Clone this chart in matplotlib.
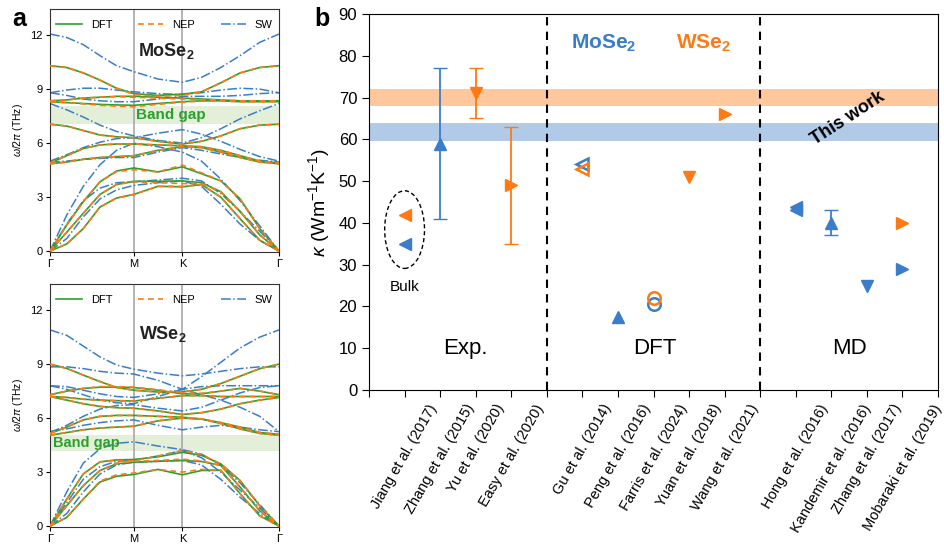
import matplotlib.pyplot as plt
from matplotlib.patches import Ellipse

plt.rcParams["font.family"] = ["Liberation Sans", "DejaVu Sans"]
plt.rcParams["mathtext.fontset"] = "custom"
plt.rcParams["mathtext.rm"] = "Liberation Sans"
plt.rcParams["mathtext.it"] = "Liberation Sans:italic"
plt.rcParams["mathtext.bf"] = "Liberation Sans:bold"

BLUE = "#3a7dc9"
ORANGE = "#ff7a14"
GREEN = "#2ca02c"

# ---------------- panel a: phonon dispersions ----------------
# sample points along Gamma-M-K-Gamma (path length units)
q_path = [0.0, 0.115, 0.229, 0.344, 0.458, 0.577, 0.743, 0.911, 1.043, 1.176, 1.309, 1.444, 1.577]
q_ticks = [0.0, 0.577, 0.911, 1.577]
q_labels = ["Γ", "M", "K", "Γ"]

mose2_dft = [
    [0, 0.4, 1.25, 2.45, 2.95, 3.15, 3.6, 3.57, 3.7, 3.0, 1.8, 0.6, 0],
    [0, 1.05, 2.1, 3.15, 3.7, 3.88, 3.88, 3.9, 3.8, 3.3, 2.2, 0.9, 0],
    [0, 1.45, 2.75, 3.85, 4.45, 4.62, 4.4, 4.68, 4.3, 3.9, 2.9, 1.25, 0],
    [4.85, 4.95, 5.1, 5.2, 5.25, 5.3, 5.6, 5.8, 5.75, 5.5, 5.2, 4.95, 4.85],
    [4.9, 5.3, 5.7, 5.9, 5.95, 5.95, 5.9, 5.85, 5.8, 5.6, 5.3, 5.0, 4.9],
    [7.05, 6.95, 6.7, 6.45, 6.35, 6.3, 6.1, 5.95, 6.1, 6.4, 6.8, 7.0, 7.05],
    [8.3, 8.25, 8.2, 8.15, 8.12, 8.1, 8.2, 8.3, 8.35, 8.35, 8.3, 8.3, 8.3],
    [8.35, 8.4, 8.5, 8.55, 8.6, 8.6, 8.55, 8.5, 8.45, 8.4, 8.35, 8.35, 8.35],
    [10.3, 10.2, 9.9, 9.5, 9.05, 8.75, 8.65, 8.72, 8.85, 9.35, 9.9, 10.2, 10.3],
]
mose2_nep = [
    [0, 0.4, 1.25, 2.45, 2.95, 3.15, 3.6, 3.6, 3.7, 3.0, 1.8, 0.6, 0],
    [0, 1.05, 2.1, 3.15, 3.7, 3.85, 3.8, 3.75, 3.75, 3.3, 2.2, 0.9, 0],
    [0, 1.45, 2.75, 3.85, 4.42, 4.52, 4.4, 4.78, 4.35, 3.9, 2.9, 1.25, 0],
    [4.85, 4.95, 5.1, 5.2, 5.25, 5.3, 5.6, 5.8, 5.75, 5.5, 5.2, 4.95, 4.85],
    [4.9, 5.3, 5.7, 5.9, 5.95, 5.95, 5.9, 5.85, 5.8, 5.6, 5.3, 5.0, 4.9],
    [7.05, 6.95, 6.7, 6.45, 6.35, 6.3, 6.1, 5.95, 6.1, 6.4, 6.8, 7.0, 7.05],
    [8.3, 8.25, 8.18, 8.1, 8.05, 8.02, 8.15, 8.28, 8.33, 8.35, 8.3, 8.3, 8.3],
    [8.35, 8.4, 8.5, 8.55, 8.58, 8.55, 8.5, 8.45, 8.42, 8.4, 8.35, 8.35, 8.35],
    [10.3, 10.2, 9.9, 9.5, 9.05, 8.7, 8.6, 8.65, 8.85, 9.35, 9.9, 10.2, 10.3],
]
mose2_sw = [
    [0, 0.7, 1.9, 2.9, 3.4, 3.65, 3.8, 3.9, 3.6, 2.6, 1.5, 0.6, 0],
    [0, 1.5, 2.8, 3.5, 3.8, 3.85, 3.95, 4.05, 3.9, 3.2, 2.2, 1.1, 0],
    [0, 2.0, 3.6, 4.8, 5.6, 6.0, 5.8, 5.5, 5.0, 4.0, 2.8, 1.4, 0],
    [4.95, 5.0, 5.1, 5.15, 5.2, 5.2, 5.5, 5.75, 5.6, 5.4, 5.2, 5.05, 4.95],
    [5.0, 5.35, 5.75, 6.05, 6.25, 6.3, 6.55, 6.75, 6.5, 6.1, 5.65, 5.25, 5.0],
    [8.2, 7.85, 7.45, 7.0, 6.65, 6.4, 6.15, 6.0, 6.3, 6.8, 7.35, 7.8, 8.2],
    [8.8, 8.65, 8.45, 8.35, 8.3, 8.3, 8.45, 8.6, 8.6, 8.6, 8.65, 8.75, 8.8],
    [8.8, 8.95, 9.05, 9.05, 8.95, 8.85, 8.75, 8.7, 8.8, 8.95, 9.05, 9.0, 8.8],
    [12.06, 11.87, 11.47, 10.86, 10.3, 9.97, 9.56, 9.38, 9.65, 10.2, 10.86, 11.6, 12.06],
]

wse2_dft = [
    [0, 0.48, 1.5, 2.45, 2.77, 2.87, 3.15, 2.85, 3.09, 3.1, 1.8, 0.57, 0],
    [0, 1.13, 2.25, 3.09, 3.46, 3.55, 3.6, 3.65, 3.59, 3.37, 2.17, 0.85, 0],
    [0, 1.5, 2.9, 3.57, 3.68, 3.7, 3.85, 4.1, 3.93, 3.46, 2.53, 1.13, 0],
    [5.05, 5.2, 5.35, 5.45, 5.5, 5.55, 5.85, 6.0, 5.95, 5.7, 5.4, 5.15, 5.05],
    [5.15, 5.5, 5.9, 6.1, 6.15, 6.15, 6.1, 6.05, 5.95, 5.75, 5.5, 5.2, 5.1],
    [7.2, 7.0, 6.8, 6.65, 6.58, 6.55, 6.4, 6.2, 6.3, 6.5, 6.8, 7.0, 7.15],
    [7.2, 7.15, 7.05, 7.0, 6.97, 6.95, 7.1, 7.25, 7.25, 7.2, 7.2, 7.2, 7.2],
    [7.3, 7.5, 7.65, 7.72, 7.72, 7.7, 7.55, 7.35, 7.35, 7.5, 7.65, 7.5, 7.3],
    [9.0, 8.76, 8.39, 8.03, 7.7, 7.55, 7.45, 7.45, 7.6, 7.92, 8.33, 8.75, 9.0],
]
wse2_nep = [
    [0, 0.48, 1.5, 2.5, 2.85, 2.95, 3.15, 3.0, 3.15, 3.1, 1.8, 0.57, 0],
    [0, 1.13, 2.25, 3.09, 3.5, 3.6, 3.65, 3.72, 3.62, 3.37, 2.17, 0.85, 0],
    [0, 1.5, 2.9, 3.57, 3.65, 3.62, 3.9, 4.2, 3.98, 3.46, 2.53, 1.13, 0],
    [5.05, 5.2, 5.35, 5.45, 5.5, 5.55, 5.85, 6.0, 5.95, 5.7, 5.4, 5.15, 5.05],
    [5.15, 5.5, 5.9, 6.1, 6.15, 6.15, 6.1, 6.05, 5.95, 5.75, 5.5, 5.2, 5.1],
    [7.2, 7.0, 6.8, 6.65, 6.58, 6.55, 6.4, 6.2, 6.3, 6.5, 6.8, 7.0, 7.15],
    [7.2, 7.15, 7.05, 7.0, 6.97, 6.95, 7.1, 7.25, 7.25, 7.2, 7.2, 7.2, 7.2],
    [7.3, 7.5, 7.65, 7.75, 7.75, 7.72, 7.58, 7.4, 7.38, 7.5, 7.65, 7.5, 7.3],
    [9.0, 8.76, 8.39, 8.03, 7.7, 7.55, 7.45, 7.45, 7.6, 7.92, 8.33, 8.75, 9.0],
]
wse2_sw = [
    [0, 0.7, 1.9, 2.9, 3.4, 3.55, 3.6, 3.65, 3.4, 2.6, 1.6, 0.7, 0],
    [0, 1.3, 2.6, 3.3, 3.6, 3.65, 3.9, 4.2, 3.8, 3.0, 2.0, 1.0, 0],
    [0, 1.9, 3.5, 4.3, 4.6, 4.68, 4.45, 4.25, 4.0, 3.4, 2.4, 1.2, 0],
    [5.25, 5.4, 5.6, 5.75, 5.85, 5.9, 5.6, 5.35, 5.5, 5.6, 5.5, 5.35, 5.25],
    [5.2, 5.6, 6.1, 6.5, 6.7, 6.75, 6.55, 6.4, 6.6, 7.0, 7.4, 7.7, 7.8],
    [7.8, 7.6, 7.3, 7.0, 6.85, 6.8, 7.2, 7.6, 7.3, 7.0, 6.6, 6.1, 5.25],
    [7.8, 7.75, 7.55, 7.35, 7.2, 7.15, 7.35, 7.6, 7.75, 7.8, 7.8, 7.8, 7.8],
    [8.85, 8.85, 8.75, 8.6, 8.5, 8.45, 8.1, 7.6, 8.3, 9.1, 9.9, 10.5, 10.9],
    [10.9, 10.6, 10.0, 9.4, 8.95, 8.72, 8.5, 8.35, 8.45, 8.6, 8.75, 8.85, 8.85],
]

mose2_gap = (7.05, 8.05)
wse2_gap = (4.17, 5.06)

# ---------------- panel b: thermal conductivity ----------------
ref_labels = ["", "Jiang et al. (2017)", "Zhang et al. (2015)", "Yu et al. (2020)",
              "Easy et al. (2020)", "", "Gu et al. (2014)", "Peng et al. (2016)",
              "Farris et al. (2024)", "Yuan et al. (2018)", "Wang et al. (2021)", "",
              "Hong et al. (2016)", "Kandemir et al. (2016)", "Zhang et al. (2017)",
              "Mobaraki et al. (2019)", ""]

pt_x = [1, 1, 2, 3, 4, 6, 6, 7, 8, 8, 9, 10, 12, 12, 13, 14, 15, 15]
pt_kappa = [42, 35, 59, 71, 49, 54, 53, 17.5, 20.5, 22, 51, 66, 43.2, 43.8, 40, 25, 40, 29]
pt_err_lo = [0, 0, 18, 6, 14, 0, 0, 0, 0, 0, 0, 0, 0, 0, 3, 0, 0, 0]
pt_err_hi = [0, 0, 18, 6, 14, 0, 0, 0, 0, 0, 0, 0, 0, 0, 3, 0, 0, 0]
pt_mat = ["W", "Mo", "Mo", "W", "W", "Mo", "W", "Mo", "Mo", "W", "W", "W",
          "Mo", "Mo", "Mo", "Mo", "W", "Mo"]
pt_marker = ["<", "<", "^", "v", ">", "<", "<", "^", "o", "o", "v", ">",
             "<", "<", "^", "v", ">", ">"]
pt_open = [False, False, False, False, False, True, True, False, True, True, False, False,
           False, False, False, False, False, False]

band_wse2 = (68, 72)
band_mose2 = (59.7, 64)

fig = plt.figure(figsize=(9.44, 5.5), dpi=100)


def draw_dispersion(ax, dft, nep, sw, gap):
    ax.axhspan(gap[0], gap[1], color="#e3efd9", lw=0, zorder=0)
    for xv in q_ticks[1:3]:
        ax.axvline(xv, color="#a8a8a8", lw=1.2, zorder=1)
    for i, br in enumerate(sw):
        ax.plot(q_path, br, color=BLUE, ls="-.", lw=1.1, zorder=2,
                label="SW" if i == 0 else None)
    for i, br in enumerate(dft):
        ax.plot(q_path, br, color=GREEN, ls="-", lw=1.2, zorder=3,
                label="DFT" if i == 0 else None)
    for i, br in enumerate(nep):
        ax.plot(q_path, br, color=ORANGE, ls=(0, (3.5, 2.5)), lw=1.2, zorder=4,
                label="NEP" if i == 0 else None)
    ax.set_xlim(q_ticks[0], q_ticks[-1])
    ax.set_ylim(-0.05, 13.45)
    ax.set_xticks(q_ticks)
    ax.set_xticklabels(q_labels)
    ax.set_yticks([0, 3, 6, 9, 12])
    ax.tick_params(labelsize=8, length=3, pad=2)
    ax.set_ylabel(r"$\omega/2\pi$ (THz)", fontsize=7.5, labelpad=4)
    handles, labels = ax.get_legend_handles_labels()
    order = [labels.index(n) for n in ["DFT", "NEP", "SW"]]
    ax.legend([handles[k] for k in order], [labels[k] for k in order], ncol=3,
              frameon=False, loc="upper center", bbox_to_anchor=(0.5, 0.995),
              fontsize=8, handlelength=2.3, columnspacing=2.3)
    for s in ax.spines.values():
        s.set_color("#333333")


ax1 = fig.add_axes([0.053, 0.5418, 0.2426, 0.4418])
draw_dispersion(ax1, mose2_dft, mose2_nep, mose2_sw, mose2_gap)
ax1.text(0.8, 11.1, r"MoSe$_\mathbf{2}$", fontsize=13, fontweight="bold",
         ha="center", va="center", color="#222222")
ax1.text(0.83, sum(mose2_gap) / 2, "Band gap", fontsize=11, fontweight="bold",
         color=GREEN, ha="center", va="center")

ax2 = fig.add_axes([0.053, 0.0418, 0.2426, 0.4418])
draw_dispersion(ax2, wse2_dft, wse2_nep, wse2_sw, wse2_gap)
ax2.text(0.78, 10.7, r"WSe$_\mathbf{2}$", fontsize=13, fontweight="bold",
         ha="center", va="center", color="#222222")
ax2.text(0.02, sum(wse2_gap) / 2, "Band gap", fontsize=10.5, fontweight="bold",
         color=GREEN, ha="left", va="center")

# panel b
ax3 = fig.add_axes([0.3909, 0.2909, 0.6028, 0.6836])
ax3.axhspan(band_wse2[0], band_wse2[1], color=ORANGE, alpha=0.42, lw=0, zorder=0)
ax3.axhspan(band_mose2[0], band_mose2[1], color="#6f9fd6", alpha=0.55, lw=0, zorder=0)
ax3.axvline(5, color="black", ls=(0, (4, 3)), lw=1.5)
ax3.axvline(11, color="black", ls=(0, (4, 3)), lw=1.5)

for i in range(len(pt_x)):
    col = BLUE if pt_mat[i] == "Mo" else ORANGE
    face = "none" if pt_open[i] else col
    yerr = None
    if pt_err_lo[i] or pt_err_hi[i]:
        yerr = [[pt_err_lo[i]], [pt_err_hi[i]]]
    ax3.errorbar([pt_x[i]], [pt_kappa[i]], yerr=yerr, fmt=pt_marker[i], color=col,
                 mfc=face, mec=col, mew=1.8 if pt_open[i] else 1.0, ms=9,
                 capsize=5, elinewidth=1.3, capthick=1.3, zorder=3)

ax3.add_patch(Ellipse((1.0, 38.4), 1.12, 18.6, fill=False, ls=(0, (3, 2)),
                      lw=1.0, color="black"))
ax3.text(1.0, 24.6, "Bulk", fontsize=11, ha="center", va="center")
ax3.text(2.7, 10, "Exp.", fontsize=16, ha="center", va="center")
ax3.text(8.05, 10, "DFT", fontsize=16, ha="center", va="center")
ax3.text(13.5, 10, "MD", fontsize=16, ha="center", va="center")
ax3.text(6.6, 83, r"MoSe$_\mathbf{2}$", fontsize=15, fontweight="bold", color=BLUE,
         ha="center", va="center")
ax3.text(9.4, 83, r"WSe$_\mathbf{2}$", fontsize=15, fontweight="bold", color=ORANGE,
         ha="center", va="center")
ax3.text(13.45, 65.0, "This work", fontsize=13, fontweight="bold", rotation=33,
         ha="center", va="center")

ax3.set_xlim(0, 16)
ax3.set_ylim(0, 90)
ax3.set_yticks(range(0, 91, 10))
ax3.set_xticks(range(0, 17))
ax3.set_xticklabels(ref_labels, rotation=60, ha="center", fontsize=10.5)
ax3.tick_params(axis="y", labelsize=12)
ax3.tick_params(length=5)
ax3.set_ylabel(r"$\kappa$ (Wm$^{-1}$K$^{-1}$)", fontsize=14, labelpad=5)

fig.text(0.013, 0.965, "a", fontsize=18, fontweight="bold", va="center")
fig.text(0.333, 0.965, "b", fontsize=18, fontweight="bold", va="center")

fig.savefig("out.png", dpi=100)
